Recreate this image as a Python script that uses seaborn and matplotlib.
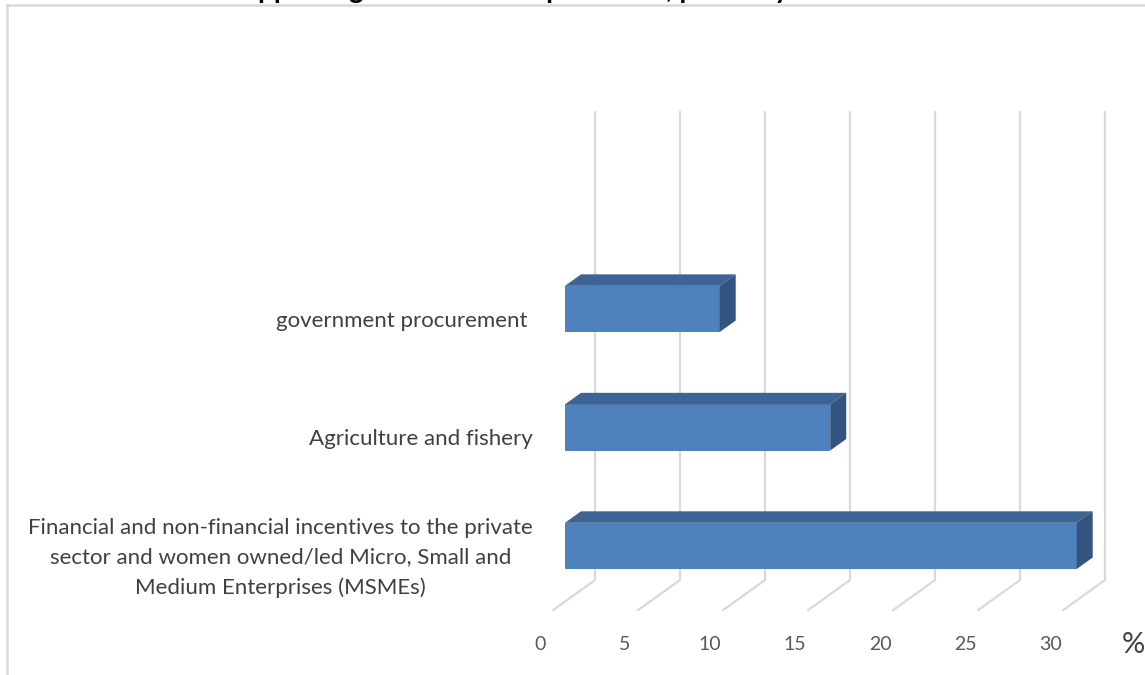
import numpy as np
import pandas as pd
import matplotlib
matplotlib.use("Agg")
import matplotlib.pyplot as plt
import seaborn as sns
from matplotlib.patches import Polygon
from matplotlib.lines import Line2D

# ---------------- data ----------------
categories = [
    "government procurement ",
    "Agriculture and fishery",
    "Financial and non-financial incentives to the private\n"
    "sector and women owned/led Micro, Small and\n"
    "Medium Enterprises (MSMEs)",
]
values = [9.1, 15.6, 30.1]
tick_values = [0, 5, 10, 15, 20, 25, 30]
tick_labels = ["0", "5", "10", "15", "20", "25", "30"]
unit_label = "%"
title = "Areas of supporting women in the pandemic, primarily"

# ---------------- style ----------------
sns.set_theme(style="white")
plt.rcParams['font.family'] = ['Lato', 'DejaVu Sans']

FRONT = "#4F81BD"
TOP = "#3D6492"
SIDE = "#345480"
GRID = "#D9D9D9"
TXT = "#404040"
TICK = "#595959"

W, H = 1145, 675
fig = plt.figure(figsize=(W / 100, H / 100), dpi=100)

# front (bar) plane of the 3-D box, in pixels
x0px, x30px = 565, 1075
ytop_px, ybot_px = 133.6, 601.6
ylim_top, ylim_bot = -1.48, 2.47
ax = fig.add_axes([x0px / W, 1 - ybot_px / H, (x30px - x0px) / W, (ybot_px - ytop_px) / H])

df = pd.DataFrame({"cat": categories, "val": values})
sns.barplot(data=df, x="val", y="cat", orient="h", color=FRONT, saturation=1,
            width=0.39, ax=ax, zorder=3, linewidth=0, edgecolor="none")
ax.set_xlim(0, 30)
ax.set_ylim(ylim_bot, ylim_top)
for s in ax.spines.values():
    s.set_visible(False)
ax.set_xticks([])
ax.set_yticks([])
ax.set_xlabel("")
ax.set_ylabel("")
ax.patch.set_alpha(0)

sx = 30 / (x30px - x0px)                      # data units per px (x)
sy = (ylim_bot - ylim_top) / (ybot_px - ytop_px)  # data units per px (y, downward)


def shift(x, y, dx_px, dy_up_px):
    return (x + dx_px * sx, y - dy_up_px * sy)


# back wall / floor gridlines
BACK = (30, 21.6)
FRONTFLOOR = (-12, -8.6)
for v in tick_values:
    top = shift(v, ylim_top, *BACK)
    bot = shift(v, ylim_bot, *BACK)
    fr = shift(v, ylim_bot, *FRONTFLOOR)
    ax.add_line(Line2D([top[0], bot[0], fr[0]], [top[1], bot[1], fr[1]],
                       color=GRID, lw=1.6, zorder=1, clip_on=False))

# 3-D faces of bars
dd = (16, 11.5)
for p in list(ax.patches):
    x, y, w, h = p.get_x(), p.get_y(), p.get_width(), p.get_height()
    a = (x, y)
    b = (x + w, y)
    c = shift(x + w, y, *dd)
    d = shift(x, y, *dd)
    ax.add_patch(Polygon([a, b, c, d], closed=True, facecolor=TOP, edgecolor="none",
                         zorder=4, clip_on=False))
    e = (x + w, y + h)
    f = shift(x + w, y + h, *dd)
    ax.add_patch(Polygon([b, e, f, c], closed=True, facecolor=SIDE, edgecolor="none",
                         zorder=4, clip_on=False))
    p.set_clip_on(False)

# category labels
for i, cat in enumerate(categories):
    tx, ty = shift(0, i, -32, -12)
    ax.text(tx, ty, cat, ha="right", va="center", multialignment="center",
            fontsize=16, color=TXT, linespacing=1.62, clip_on=False)

# value tick labels on the front floor
for v, lab in zip(tick_values, tick_labels):
    tx, _ = shift(v, ylim_bot, -25, 0)
    ty = ylim_top + (644 - ytop_px) * sy
    ax.text(tx, ty, lab, ha="center", va="center", fontsize=14, color=TICK,
            clip_on=False)

fig.text(1133 / W, 1 - 645 / H, unit_label, ha="center", va="center", fontsize=21,
         color=TXT)

# chart-area border
fig.add_artist(Line2D([7 / W, 7 / W], [0, 1 - 4.5 / H], color=GRID, lw=1.8,
                      transform=fig.transFigure))
fig.add_artist(Line2D([7 / W, 1], [1 - 4.5 / H, 1 - 4.5 / H], color=GRID, lw=1.8,
                      transform=fig.transFigure))

# title (mostly cropped off at the top, as in the reference)
renderer = fig.canvas.get_renderer()
probe = fig.text(0, 0, "Areas of S", fontsize=20, fontweight="bold")
pre_w = probe.get_window_extent(renderer).width
probe.remove()
fig.text((246 - pre_w) / W, (H + 2.0) / H, title, ha="left", va="baseline",
         fontsize=20, fontweight="bold", color="black")

fig.savefig("out.png", dpi=100)
